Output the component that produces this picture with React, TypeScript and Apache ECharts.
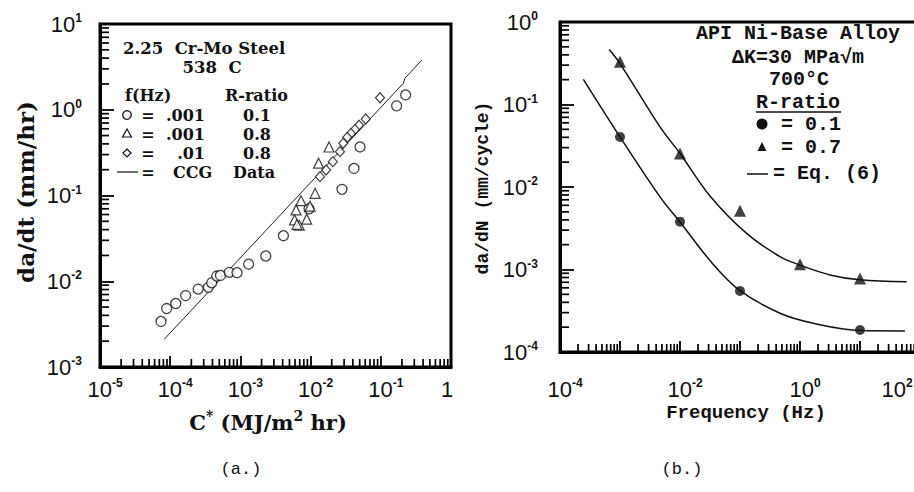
import React, { useEffect, useRef } from "react";
import * as echarts from "echarts";

// ---------- Panel (a): 2.25 Cr-Mo Steel, 538 C ----------
// open circles: f = .001 Hz, R = 0.1
const aCircleC = [7.4e-5, 8.9e-5, 1.2e-4, 1.66e-4, 2.5e-4, 3.5e-4, 3.9e-4, 4.6e-4, 5.2e-4, 6.95e-4, 8.95e-4, 1.31e-3, 2.3e-3, 4.1e-3, 9.5e-3, 2.8e-2, 4.15e-2, 5.06e-2, 0.168, 0.226];
const aCircleRate = [3.4e-3, 4.8e-3, 5.5e-3, 6.8e-3, 8.1e-3, 8.5e-3, 9.6e-3, 1.15e-2, 1.17e-2, 1.27e-2, 1.26e-2, 1.58e-2, 1.97e-2, 3.4e-2, 7.0e-2, 0.118, 0.207, 0.368, 1.11, 1.49];
// open triangles: f = .001 Hz, R = 0.8
const aTriangleC = [1.83e-2, 1.3e-2, 1.16e-2, 7.3e-3, 6.2e-3, 5.9e-3, 8.8e-3, 6.9e-3, 9.8e-3, 6.4e-3];
const aTriangleRate = [0.368, 0.238, 0.106, 0.087, 0.068, 0.052, 0.053, 0.045, 0.075, 0.046];
// open diamonds: f = .01 Hz, R = 0.8
const aDiamondC = [0.0975, 0.061, 0.0489, 0.0429, 0.0376, 0.0333, 0.0292, 0.0262, 0.0207, 0.0166, 0.0136];
const aDiamondRate = [1.38, 0.78, 0.66, 0.59, 0.53, 0.477, 0.406, 0.324, 0.248, 0.198, 0.166];
// CCG data line
const aCcgC = [8.2e-5, 0.209, 0.221, 0.383];
const aCcgRate = [2.1e-3, 2.03, 2.33, 3.8];

// ---------- Panel (b): API Ni-Base Alloy ----------
const bFreqR01 = [0.001, 0.01, 0.1, 10];
const bRateR01 = [0.0405, 3.8e-3, 5.5e-4, 1.85e-4];
const bFreqR07 = [0.001, 0.01, 0.1, 1, 10];
const bRateR07 = [0.33, 0.0255, 5.15e-3, 1.16e-3, 7.8e-4];
const bEqLowFreq = [2.45e-4, 1e-3, 4.64e-3, 0.01, 0.0359, 0.1, 0.464, 1.67, 10, 56];
const bEqLowRate = [0.202, 0.0405, 7.6e-3, 3.76e-3, 1.15e-3, 5.54e-4, 2.95e-4, 2.23e-4, 1.82e-4, 1.8e-4];
const bEqHighFreq = [6.6e-4, 1e-3, 4.64e-3, 0.01, 0.0316, 0.129, 0.464, 1, 3.16, 10, 60];
const bEqHighRate = [0.463, 0.313, 0.0536, 0.0255, 7.8e-3, 2.74e-3, 1.43e-3, 1.13e-3, 8.6e-4, 7.5e-4, 7.1e-4];

// ---------- tick labels: [exponent, base, superscript] ----------
const aXTickLabels: [number, string, string][] = [[-5, "10", "-5"], [-4, "10", "-4"], [-3, "10", "-3"], [-2, "10", "-2"], [-1, "10", "-1"], [0, "1", ""]];
const aYTickLabels: [number, string, string][] = [[1, "10", "1"], [0, "10", "0"], [-1, "10", "-1"], [-2, "10", "-2"], [-3, "10", "-3"]];
const bXTickLabels: [number, string, string][] = [[-4, "10", "-4"], [-2, "10", "-2"], [0, "10", "0"], [2, "10", "2"]];
const bYTickLabels: [number, string, string][] = [[0, "10", "0"], [-1, "10", "-1"], [-2, "10", "-2"], [-3, "10", "-3"], [-4, "10", "-4"]];

const zip = (a: number[], b: number[]) => a.map((v, i) => [v, b[i]]);

// minor tick positions on a log axis: 2..9 within each decade
const minorValues = (lo: number, hi: number) => {
  const out: number[] = [];
  for (let e = lo; e < hi; e++) for (let k = 2; k <= 9; k++) out.push(k * Math.pow(10, e));
  return out;
};

const SANS = "'Liberation Sans', Arial, sans-serif";
const SERIF = "'DejaVu Serif', serif";
const MONO = "'Liberation Mono', 'DejaVu Sans Mono', monospace";

const GRID_A = { left: 100, top: 24, width: 351, height: 343 };
const GRID_B = { left: 560, top: 22, width: 360, height: 330 };

const labelRich = () => ({
  b: { fontFamily: SANS, fontSize: 22, lineHeight: 24, color: "#111" },
  s: { fontFamily: SANS, fontSize: 12, fontWeight: "bold", lineHeight: 13, verticalAlign: "top", color: "#111" },
  p: { width: 10, fontSize: 10 },
  q: { width: 8, fontSize: 10 },
  r: { width: 56, fontSize: 10 },
});

const makeFormatter = (table: [number, string, string][], mode: "x" | "y") => (v: number) => {
  const e = Math.round(Math.log10(v));
  const row = table.find((t) => t[0] === e);
  if (!row) return "";
  if (row[2] === "") return mode === "x" ? `{b|${row[1]}}{q| }` : `{b|${row[1]}}`;
  const core = `{b|${row[1]}}{s|${row[2]}}`;
  if (mode === "x") return e === 2 ? `{p| }${core}{r| }` : `{p| }${core}`;
  return core;
};

const makeAxis = (gridIndex: number, min: number, max: number, margin: number, fmt: any, tickLen: number) => ({
  type: "log",
  logBase: 10,
  gridIndex,
  min,
  max,
  axisLine: { show: true, onZero: false, lineStyle: { color: "#000", width: 3 } },
  axisTick: { show: true, inside: true, length: tickLen, lineStyle: { color: "#000", width: 1.8 } },
  splitLine: { show: false },
  axisLabel: { margin, formatter: fmt, rich: labelRich() },
});

const T = (x: number, y: number, text: string, size: number, family: string, align = "left", weight = "bold") => ({
  type: "text", x, y,
  style: { text, font: `${weight} ${size}px ${family}`, align, verticalAlign: "middle", fill: "#111" },
});

const buildGraphic = (): any[] => [
  // axis titles
  { type: "text", x: 25, y: 192, rotation: Math.PI / 2, style: { text: "da/dt (mm/hr)", font: `bold 23px ${SERIF}`, align: "center", verticalAlign: "middle", fill: "#111" } },
  {
    type: "text", x: 268, y: 422,
    style: {
      text: "{t|C}{u|*}{t| (MJ/m}{u|2}{t| hr)}", align: "center", verticalAlign: "middle",
      rich: {
        t: { font: `bold 21px ${SERIF}`, fill: "#111", lineHeight: 26 },
        u: { font: `bold 14px ${SERIF}`, fill: "#111", verticalAlign: "top", lineHeight: 14 },
      },
    },
  },
  { type: "text", x: 483, y: 188, rotation: Math.PI / 2, style: { text: "da/dN (mm/cycle)", font: `bold 18px ${MONO}`, align: "center", verticalAlign: "middle", fill: "#111" } },
  T(746, 413, "Frequency (Hz)", 19, MONO, "center"),
  T(241, 469, "(a.)", 17, MONO, "center", "normal"),
  T(682, 469, "(b.)", 17, MONO, "center", "normal"),

  // legend (a)
  T(123, 48, "2.25  Cr-Mo Steel", 16.5, SERIF),
  T(212, 67, "538  C", 16.5, SERIF, "center"),
  T(125, 95, "f(Hz)", 16, SERIF),
  T(225, 95, "R-ratio", 16, SERIF),
  { type: "circle", shape: { cx: 127, cy: 115, r: 4.3 }, style: { fill: "#fff", stroke: "#111", lineWidth: 1.3 } },
  { type: "polygon", shape: { points: [[127, 129], [131.5, 137], [122.5, 137]] }, style: { fill: "#fff", stroke: "#111", lineWidth: 1.2 } },
  { type: "polygon", shape: { points: [[127, 149], [131, 153], [127, 157], [123, 153]] }, style: { fill: "#fff", stroke: "#111", lineWidth: 1.2 } },
  { type: "line", shape: { x1: 117, y1: 172, x2: 138, y2: 172 }, style: { stroke: "#111", lineWidth: 1.2 } },
  T(148, 115, "=", 16, SERIF, "center"),
  T(148, 134, "=", 16, SERIF, "center"),
  T(148, 153, "=", 16, SERIF, "center"),
  T(148, 172, "=", 16, SERIF, "center"),
  T(205, 115, ".001", 16, SERIF, "right"),
  T(205, 134, ".001", 16, SERIF, "right"),
  T(205, 153, ".01", 16, SERIF, "right"),
  T(173, 172, "CCG", 16, SERIF),
  T(257, 115, "0.1", 16, SERIF, "center"),
  T(257, 134, "0.8", 16, SERIF, "center"),
  T(257, 153, "0.8", 16, SERIF, "center"),
  T(233, 172, "Data", 16, SERIF),

  // legend (b)
  T(798, 33, "API Ni-Base Alloy", 20, MONO, "center"),
  T(798, 57, "ΔK=30 MPa√m", 20, MONO, "center"),
  T(799, 79, "700°C", 20, MONO, "center"),
  T(798, 102, "R-ratio", 20, MONO, "center"),
  { type: "line", shape: { x1: 756, y1: 112, x2: 841, y2: 112 }, style: { stroke: "#111", lineWidth: 1.6 } },
  { type: "circle", shape: { cx: 762, cy: 124, r: 5.5 }, style: { fill: "#111" } },
  T(781, 124, "= 0.1", 20, MONO),
  { type: "polygon", shape: { points: [[762, 142], [766.5, 151], [757.5, 151]] }, style: { fill: "#111" } },
  T(781, 147, "= 0.7", 20, MONO),
  { type: "line", shape: { x1: 747, y1: 174, x2: 768, y2: 174 }, style: { stroke: "#111", lineWidth: 1.5 } },
  T(773, 173, "= Eq. (6)", 20, MONO),
];

export default function App() {
  const ref = useRef<HTMLDivElement>(null);
  useEffect(() => {
    if (!ref.current) return;
    const chart = echarts.init(ref.current, null, { renderer: "svg" });

    chart.setOption({
      animation: false,
      backgroundColor: "#fff",
      grid: [
        { ...GRID_A, show: true, borderColor: "#000", borderWidth: 3, outerBoundsMode: "none" },
        { ...GRID_B, show: true, borderColor: "#000", borderWidth: 3, outerBoundsMode: "none" },
      ],
      xAxis: [
        makeAxis(0, 1e-5, 1, 10, makeFormatter(aXTickLabels, "x"), 11),
        makeAxis(1, 1e-4, 100, 25, makeFormatter(bXTickLabels, "x"), 11),
      ],
      yAxis: [
        makeAxis(0, 1e-3, 10, 18, makeFormatter(aYTickLabels, "y"), 14),
        makeAxis(1, 1e-4, 1, 22, makeFormatter(bYTickLabels, "y"), 14),
      ],
      series: [
        {
          name: "CCG Data", type: "line", xAxisIndex: 0, yAxisIndex: 0, data: zip(aCcgC, aCcgRate),
          showSymbol: false, lineStyle: { color: "#222", width: 1 }, z: 3,
        },
        {
          name: "f=.001 R=0.1", type: "scatter", xAxisIndex: 0, yAxisIndex: 0, data: zip(aCircleC, aCircleRate),
          symbol: "circle", symbolSize: 10, itemStyle: { color: "#fff", borderColor: "#111", borderWidth: 1.3 }, z: 4,
        },
        {
          name: "f=.001 R=0.8", type: "scatter", xAxisIndex: 0, yAxisIndex: 0, data: zip(aTriangleC, aTriangleRate),
          symbol: "triangle", symbolSize: 10, itemStyle: { color: "#fff", borderColor: "#111", borderWidth: 1.2 }, z: 4,
        },
        {
          name: "f=.01 R=0.8", type: "scatter", xAxisIndex: 0, yAxisIndex: 0, data: zip(aDiamondC, aDiamondRate),
          symbol: "diamond", symbolSize: [9, 10], itemStyle: { color: "#fff", borderColor: "#111", borderWidth: 1.2 }, z: 4,
        },
        {
          name: "Eq. (6) R=0.1", type: "line", xAxisIndex: 1, yAxisIndex: 1, data: zip(bEqLowFreq, bEqLowRate),
          showSymbol: false, smooth: 0.35, lineStyle: { color: "#111", width: 1.5 }, z: 3,
        },
        {
          name: "Eq. (6) R=0.7", type: "line", xAxisIndex: 1, yAxisIndex: 1, data: zip(bEqHighFreq, bEqHighRate),
          showSymbol: false, smooth: 0.35, lineStyle: { color: "#111", width: 1.5 }, z: 3,
        },
        {
          name: "R=0.1", type: "scatter", xAxisIndex: 1, yAxisIndex: 1, data: zip(bFreqR01, bRateR01),
          symbol: "circle", symbolSize: 10, itemStyle: { color: "#111" }, z: 4,
        },
        {
          name: "R=0.7", type: "scatter", xAxisIndex: 1, yAxisIndex: 1, data: zip(bFreqR07, bRateR07),
          symbol: "triangle", symbolSize: 12, itemStyle: { color: "#111" }, z: 4,
        },
      ],
    });

    // minor log-axis ticks (2..9 per decade), positioned through the axes' own scales
    const ticks: any[] = [];
    const addX = (axis: number, vals: number[], yBase: number, len: number) => {
      vals.forEach((v) => {
        const px = Number(chart.convertToPixel({ xAxisIndex: axis }, v));
        if (!isFinite(px)) return;
        ticks.push({ type: "line", silent: true, z: 50, shape: { x1: px, y1: yBase, x2: px, y2: yBase - len }, style: { stroke: "#000", lineWidth: 1.7 } });
      });
    };
    const addY = (axis: number, vals: number[], xBase: number, len: number) => {
      vals.forEach((v) => {
        const py = Number(chart.convertToPixel({ yAxisIndex: axis }, v));
        if (!isFinite(py)) return;
        ticks.push({ type: "line", silent: true, z: 50, shape: { x1: xBase, y1: py, x2: xBase + len, y2: py }, style: { stroke: "#000", lineWidth: 1.7 } });
      });
    };
    addX(0, minorValues(-5, 0), GRID_A.top + GRID_A.height, 8);
    addY(0, minorValues(-3, 1), GRID_A.left, 9);
    addX(1, minorValues(-4, 2), GRID_B.top + GRID_B.height, 8);
    addY(1, minorValues(-4, 0), GRID_B.left, 9);

    chart.setOption({ graphic: [...buildGraphic(), ...ticks] });
    return () => chart.dispose();
  }, []);

  return (
    <div style={{ position: "fixed", left: 0, top: 0, width: 914, height: 492, overflow: "hidden", background: "#fff" }}>
      <div ref={ref} style={{ width: 914, height: 492 }} />
    </div>
  );
}
